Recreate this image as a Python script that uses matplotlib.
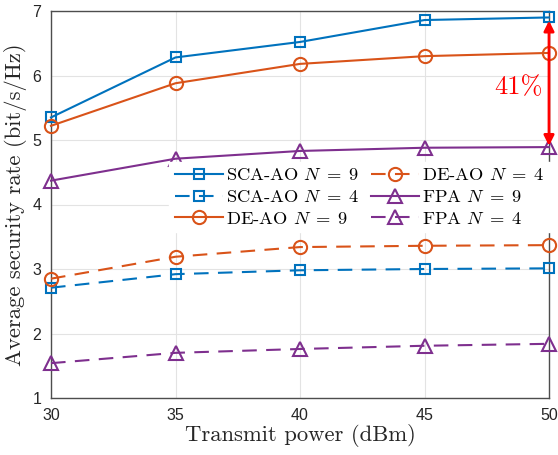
import numpy as np
import matplotlib
matplotlib.use('Agg')
import matplotlib.pyplot as plt

plt.rcParams['mathtext.fontset'] = 'cm'
plt.rcParams['axes.unicode_minus'] = False

# transmit power (dBm)
power = [30, 35, 40, 45, 50]

# average security rate (bit/s/Hz)
sca_n9 = [5.35, 6.28, 6.52, 6.86, 6.90]
sca_n4 = [2.71, 2.92, 2.98, 3.00, 3.01]
de_n9 = [5.22, 5.88, 6.18, 6.30, 6.35]
de_n4 = [2.85, 3.19, 3.34, 3.36, 3.37]
fpa_n9 = [4.37, 4.71, 4.83, 4.88, 4.89]
fpa_n4 = [1.54, 1.70, 1.76, 1.81, 1.84]

labels = [r'SCA-AO $N\;=\;9$', r'SCA-AO $N\;=\;4$', r'DE-AO $N\;=\;9$',
          r'DE-AO $N\;=\;4$', r'FPA $N\;=\;9$', r'FPA $N\;=\;4$']

blue = '#0072BD'
orange = '#D95319'
purple = '#7E2F8E'
dash = (7, 4.5)

fig = plt.figure(figsize=(5.58, 4.55), dpi=100)
ax = fig.add_axes([51 / 558, 1 - 398 / 455, 498 / 558, 387 / 455])

series = [
    (sca_n9, blue, 's', '-', 7),
    (sca_n4, blue, 's', '--', 7),
    (de_n9, orange, 'o', '-', 9.5),
    (de_n4, orange, 'o', '--', 9.5),
    (fpa_n9, purple, '^', '-', 9.5),
    (fpa_n4, purple, '^', '--', 9.5),
]
for (vals, c, m, ls, ms), lab in zip(series, labels):
    line, = ax.plot(power, vals, color=c, marker=m, ls=ls, lw=1.5, ms=ms,
                    mfc='none', mec=c, mew=1.5, label=lab, clip_on=False, zorder=3)
    if ls == '--':
        line.set_dashes(dash)

# gap arrow between SCA-AO and FPA at 50 dBm
ax.annotate('', xy=(power[-1], sca_n9[-1] - 0.05), xytext=(power[-1], fpa_n9[-1] + 0.02),
            arrowprops=dict(arrowstyle='<|-|>', color='red', lw=2, mutation_scale=15,
                            shrinkA=0, shrinkB=0), zorder=4)
ax.text(49.75, 5.82, '41%', color='red', fontsize=19, family='cmr10',
        ha='right', va='center')

ax.set_xlim(30, 50)
ax.set_ylim(1, 7)
ax.set_xticks(power)
ax.set_yticks(range(1, 8))
ax.grid(True, color='#e3e3e3', lw=0.8)
ax.set_axisbelow(True)
for s in ax.spines.values():
    s.set_color('#4d4d4d')
    s.set_linewidth(1.0)
ax.tick_params(direction='in', length=0, labelsize=11.5, colors='#262626', pad=7)
for t in ax.get_xticklabels() + ax.get_yticklabels():
    t.set_family('Liberation Sans')

ax.set_xlabel('Transmit power (dBm)', family='cmr10', fontsize=16.3, color='#262626', labelpad=1)
ax.set_ylabel('Average security rate (bit/s/Hz)', family='cmr10', fontsize=16.3,
              color='#262626', labelpad=4)

leg = ax.legend(loc='upper left', bbox_to_anchor=(0.237, 0.61), ncol=2,
                prop={'family': 'cmr10', 'size': 13.3}, frameon=True, framealpha=1,
                edgecolor='white', fancybox=False, borderpad=0.3, borderaxespad=0,
                handlelength=2.6, handletextpad=0.2, columnspacing=0.6,
                labelspacing=0.3)
for h in leg.get_lines():
    if h.get_linestyle() == '--':
        h.set_dashes(dash)

fig.savefig('out.png', dpi=100)
